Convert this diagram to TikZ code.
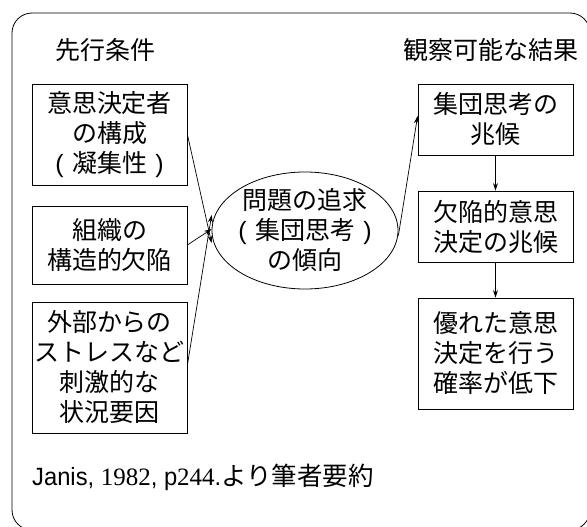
\documentclass[tikz,border=0pt]{standalone}
\usepackage{fontspec}
\setmainfont{Liberation Sans}
\newfontfamily\jp{Noto Sans CJK JP}
\newfontfamily\digits{Liberation Serif}
\newfontfamily\narrowsans[FakeStretch=0.95]{Liberation Sans}
\newcommand{\lp}{\makebox[25pt][c]{\rmfamily(}}
\newcommand{\rp}{\makebox[25pt][c]{\rmfamily)}}
\newcommand{\fsz}{\fontsize{25}{30}\selectfont}
\usetikzlibrary{arrows.meta,shapes.geometric}
\begin{document}
\begin{tikzpicture}[x=1pt,y=-1pt,
  txt/.style={font=\jp\fsz,align=center,inner sep=0pt},
  box/.style={txt,draw,line width=0.8pt,minimum width=155pt},
  arr/.style={-{Stealth[length=7.5pt,width=5pt]},line width=0.7pt}]
\useasboundingbox (0,0) rectangle (587,527);
\draw[line width=0.8pt,rounded corners=20pt] (12,13) rectangle (590,530);
\node[txt] (h1) at (106,50) {先行条件};
\node[txt] (h2) at (491,50) {観察可能な結果};
\node[box,minimum height=101pt] (b1) at (109.5,134.5) {意思決定者\\の構成\\\lp 凝集性\rp};
\node[box,minimum height=78pt] (b2) at (109.5,245) {組織の\\構造的欠陥};
\node[box,minimum height=131pt] (b3) at (109.5,367.5) {外部からの\\ストレスなど\\刺激的な\\状況要因};
\node[draw,ellipse,line width=0.8pt,inner sep=0pt,minimum width=186pt,minimum height=117pt] (el) at (305,230.5) {};
\node[txt] (elt) at (el.center) {問題の追求\\\lp 集団思考\rp\\の傾向};
\node[box,minimum height=71pt] (r1) at (495.5,119.5) {集団思考の\\兆候};
\node[box,minimum height=71pt] (r2) at (495.5,226.5) {欠陥的意思\\決定の兆候};
\node[box,minimum height=111pt] (r3) at (495.5,353.5) {優れた意思\\決定を行う\\確率が低下};
\node[anchor=west,inner sep=0pt] (ft) at (32,477) {{\narrowsans\fsz Janis, }{\digits\fsz 1982}{\narrowsans\fsz , p}{\digits\fsz 244}{\narrowsans\fsz .}{\jp\fontsize{25.5}{30}\selectfont より筆者要約}};
\coordinate (e1) at ([yshift=-12.5]el.west);
\coordinate (e2) at ([yshift=1.5]el.west);
\coordinate (e3) at ([yshift=15.5]el.west);
\coordinate (es) at ([yshift=-5]el.east);
\coordinate (r1in) at ([yshift=3.5]r1.west);
\draw[arr] (b1.east) -- (e1);
\draw[arr] (b2.east) -- (e2);
\draw[arr] ([yshift=2.5]b3.east) -- (e3);
\draw[arr] (es) -- (r1in);
\draw[arr] (r1) -- (r2);
\draw[arr] (r2) -- (r3);
\end{tikzpicture}
\end{document}
